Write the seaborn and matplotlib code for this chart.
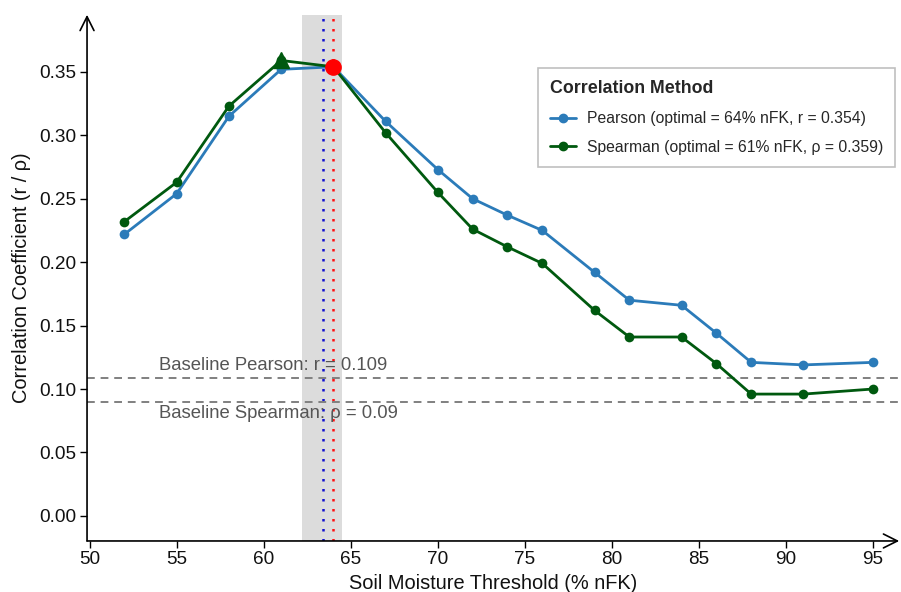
import numpy as np
import pandas as pd
import matplotlib
matplotlib.use("Agg")
import matplotlib.pyplot as plt
import seaborn as sns
from matplotlib.lines import Line2D

thresholds = [52, 55, 58, 61, 64, 67, 70, 72, 74, 76, 79, 81, 84, 86, 88, 91, 95]
pearson = [0.222, 0.254, 0.315, 0.352, 0.354, 0.311, 0.273, 0.250, 0.237, 0.225,
           0.192, 0.170, 0.166, 0.144, 0.121, 0.119, 0.121]
spearman = [0.232, 0.263, 0.323, 0.359, 0.354, 0.302, 0.255, 0.226, 0.212, 0.199,
            0.162, 0.141, 0.141, 0.120, 0.096, 0.096, 0.100]
methods = ["Pearson", "Spearman"]
legend_labels = ["Pearson (optimal = 64% nFK, r = 0.354)",
                 "Spearman (optimal = 61% nFK, \u03c1 = 0.359)"]
colors = {"Pearson": "#2b7bb9", "Spearman": "#00590f"}
baseline_pearson = 0.109
baseline_spearman = 0.09
opt_pearson = (64, 0.354)
opt_spearman = (61, 0.359)
band = (62.2, 64.5)
band_center = 63.4
xticks = [50, 55, 60, 65, 70, 75, 80, 85, 90, 95]
yticks = [0.00, 0.05, 0.10, 0.15, 0.20, 0.25, 0.30, 0.35]

df = pd.DataFrame({
    "threshold": thresholds * 2,
    "coef": pearson + spearman,
    "method": ["Pearson"] * len(thresholds) + ["Spearman"] * len(thresholds),
})

sns.set_theme(style="white")
plt.rcParams["font.family"] = ["Liberation Sans", "DejaVu Sans"]

fig = plt.figure(figsize=(9.01, 5.92), dpi=100)
ax = fig.add_axes([0.0966, 0.0862, 0.9014, 0.8888])

ax.axvspan(band[0], band[1], color="#dcdcdc", zorder=0, lw=0)
ax.axvline(band_center, color="#1010d0", ls=(0, (1, 3)), lw=1.8, zorder=1)
ax.axvline(opt_pearson[0], color="#ff1010", ls=(0, (1, 3)), lw=1.8, zorder=1)

ax.axhline(baseline_pearson, color="#808080", ls=(0, (4, 3)), lw=1.4, zorder=1)
ax.axhline(baseline_spearman, color="#808080", ls=(0, (4, 3)), lw=1.4, zorder=1)
ax.text(54, baseline_pearson + 0.003, f"Baseline Pearson: r = {baseline_pearson}",
        color="#555555", fontsize=13.3, ha="left", va="bottom", zorder=2)
ax.text(54, baseline_spearman - 0.003, f"Baseline Spearman: \u03c1 = {baseline_spearman}",
        color="#555555", fontsize=13.3, ha="left", va="top", zorder=2)

sns.lineplot(data=df, x="threshold", y="coef", hue="method", palette=colors,
             hue_order=methods, marker="o", markersize=7, markeredgewidth=0,
             linewidth=2.0, ax=ax, legend=False, zorder=3)

ax.plot(*opt_spearman, marker="^", color=colors["Spearman"], markersize=11, zorder=4, ls="none")
ax.plot(*opt_pearson, marker="o", color="#ff0000", markersize=11, zorder=5, ls="none")

ax.set_xlim(49.85, 96.5)
ax.set_ylim(-0.0198, 0.395)
ax.set_xticks(xticks)
ax.set_yticks(yticks)
ax.set_yticklabels([f"{v:.2f}" for v in yticks])
ax.tick_params(axis="both", which="both", direction="out", length=5, width=1,
               color="black", labelsize=13.7, labelcolor="#111111", bottom=True, left=True, pad=2.5)
ax.set_xlabel("Soil Moisture Threshold (% nFK)", fontsize=14.4, color="#111111", labelpad=4)
ax.set_ylabel("Correlation Coefficient (r / \u03c1)", fontsize=14.4, color="#111111", labelpad=6)

for s in ["top", "right", "left", "bottom"]:
    ax.spines[s].set_visible(False)

ax.annotate("", xy=(0, 1.0), xytext=(0, 0), xycoords="axes fraction",
            arrowprops=dict(arrowstyle="->", lw=1.2, color="black", mutation_scale=25,
                            shrinkA=0, shrinkB=0), annotation_clip=False)
ax.annotate("", xy=(1.0, 0), xytext=(0, 0), xycoords="axes fraction",
            arrowprops=dict(arrowstyle="->", lw=1.2, color="black", mutation_scale=25,
                            shrinkA=0, shrinkB=0), annotation_clip=False)

handles = [Line2D([0], [0], color=colors[m], marker="o", markersize=6, lw=2.0) for m in methods]
leg = ax.legend(handles, legend_labels, title="Correlation Method", loc="upper right",
                bbox_to_anchor=(0.995, 0.899), borderaxespad=0, fontsize=11.3, title_fontsize=12.8,
                frameon=True, fancybox=False, edgecolor="#b0b0b0", handlelength=1.7,
                handletextpad=0.65, borderpad=0.78, labelspacing=0.88, alignment="left")
leg.get_title().set_fontweight("bold")
leg.get_frame().set_linewidth(1.2)

fig.savefig("out.png", dpi=100)
